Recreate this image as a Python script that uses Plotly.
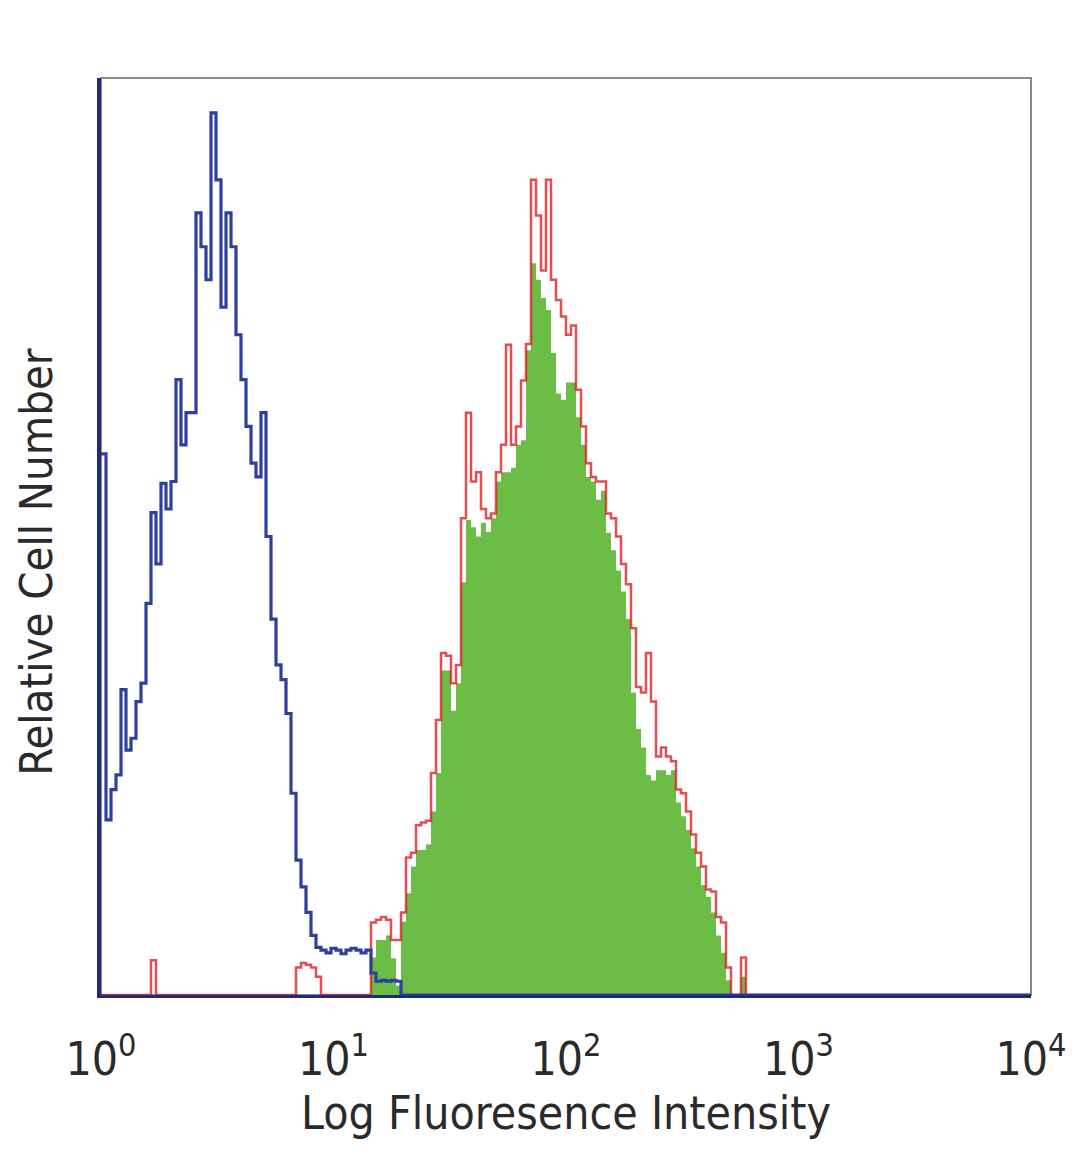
import numpy as np
import plotly.graph_objects as go

# Histogram channels: 186 channels spanning 4 decades (10^0 .. 10^4)
N_CHANNELS = 186
DECADES = 4.0

# Isotype control (blue outline), starting at channel 0
blue_start = 0
blue_counts = [59.0, 19.1, 22.4, 24.0, 33.3, 26.7, 28.0, 32.0, 34.0, 42.7,
               52.6, 47.0, 55.8, 53.0, 56.0, 67.1, 60.0, 63.5, 63.5, 85.3,
               81.6, 78.0, 96.2, 88.9, 75.0, 85.3, 81.6, 72.0, 67.1, 62.0,
               58.0, 56.5, 63.5, 50.0, 41.0, 36.0, 34.4, 30.7, 22.0, 14.7,
               11.8, 9.0, 6.5, 5.2, 4.9, 4.6, 5.1, 4.9, 4.5, 4.9,
               5.1, 4.9, 4.6, 4.9, 2.4, 1.5, 1.6, 1.5, 1.6, 1.5]

# Stained sample (green fill), starting at channel 54
green_start = 54
green_counts = [4.1, 6.0, 6.0, 6.5, 4.0, 1.0, 8.0, 11.1, 14.0, 15.8,
                15.8, 16.4, 20.0, 24.2, 35.4, 35.4, 31.0, 34.0, 45.0, 51.8,
                51.0, 50.0, 51.5, 50.5, 52.0, 56.0, 57.0, 57.0, 57.5, 60.0,
                60.5, 70.3, 79.8, 78.0, 76.0, 74.7, 70.0, 65.6, 64.9, 66.8,
                66.8, 63.0, 60.0, 56.5, 56.0, 54.0, 55.0, 50.4, 48.5, 46.3,
                44.0, 41.0, 33.0, 29.0, 27.0, 24.0, 23.4, 24.5, 24.5, 24.0,
                24.5, 21.0, 19.5, 18.0, 16.0, 14.0, 12.0, 10.7, 9.0, 6.5,
                4.6, 1.6, 0.0, 0.0, 2.0, 0.0]

# Second stained sample (red outline), starting at channel 0
red_start = 0
red_counts = [0.0] * 10 + [3.8] + [0.0] * 28 + [3.0, 3.5, 3.3, 3.0, 2.0] + [0.0] * 10 + \
             [7.9, 8.2, 8.5, 8.2, 6.0, 6.0, 9.0, 15.0, 15.5, 18.5,
              18.8, 19.0, 24.2, 30.0, 37.3, 37.0, 34.0, 36.0, 52.0, 63.5,
              56.0, 57.0, 53.0, 52.0, 52.5, 57.0, 60.0, 70.9, 60.0, 62.0,
              67.0, 71.0, 88.9, 85.0, 79.0, 88.9, 78.0, 75.8, 74.0, 72.0,
              73.0, 66.0, 62.0, 58.0, 56.5, 56.0, 56.0, 52.5, 52.0, 50.0,
              47.0, 44.8, 40.0, 33.6, 33.0, 37.3, 32.0, 26.0, 27.0, 26.0,
              25.5, 22.4, 22.0, 20.0, 17.5, 15.5, 14.0, 11.5, 11.3, 8.5,
              7.9, 3.0, 0.0, 0.0, 4.1, 0.0]

x_tick_vals = [1, 10, 100, 1000, 10000]
x_tick_text = ["10<sup>0</sup>", "10<sup>1</sup>", "10<sup>2</sup>", "10<sup>3</sup>", "10<sup>4</sup>"]
x_title = "Log Fluoresence Intensity"
y_title = "Relative Cell Number"


def step_xy(start, counts):
    full = np.zeros(N_CHANNELS)
    full[start:start + len(counts)] = counts
    edges = 10 ** (np.arange(N_CHANNELS + 1) * DECADES / N_CHANNELS)
    ys = np.append(full, full[-1])
    return edges, ys


fig = go.Figure()

gx, gy = step_xy(green_start, green_counts)
fig.add_trace(go.Scatter(x=gx, y=gy, mode="lines", line=dict(shape="hv", width=0, color="#6cbd45"),
                         fill="tozeroy", fillcolor="#6cbd45", hoverinfo="skip"))

rx, ry = step_xy(red_start, red_counts)
fig.add_trace(go.Scatter(x=rx, y=ry, mode="lines", line=dict(shape="hv", width=2.5, color="rgba(220,34,38,0.8)"),
                         hoverinfo="skip"))

bx, by = step_xy(blue_start, blue_counts)
fig.add_trace(go.Scatter(x=bx, y=by, mode="lines", line=dict(shape="hv", width=3.2, color="#2e3f9e"),
                         hoverinfo="skip"))

font_family = "Liberation Sans Narrow, DejaVu Sans Condensed, Liberation Sans, sans-serif"
text_color = "#2a2a2a"

fig.update_layout(
    width=1080, height=1169,
    margin=dict(l=93, r=57, t=70, b=182),
    paper_bgcolor="white", plot_bgcolor="white",
    showlegend=False,
    xaxis=dict(type="log", range=[0, 4], tickvals=x_tick_vals, ticktext=x_tick_text,
               showgrid=False, zeroline=False, showline=True, linecolor="#1f2a7a", linewidth=3,
               ticks="", ticklabelstandoff=22, layer="below traces",
               tickfont=dict(family=font_family, size=46, color=text_color),
               title=dict(text=x_title, font=dict(family=font_family, size=46, color=text_color), standoff=12)),
    yaxis=dict(range=[0, 100], showgrid=False, zeroline=False, showline=True, linecolor="#1f2a7a",
               linewidth=4, showticklabels=False, ticks=""),
    shapes=[dict(type="rect", xref="paper", yref="paper", x0=0, y0=0, x1=1, y1=1,
                 line=dict(color="#8a8a8a", width=2), layer="below")],
    annotations=[dict(text=y_title, textangle=-90, xref="paper", yref="paper",
                      x=0, y=0.472, xanchor="right", yanchor="middle", xshift=-36,
                      showarrow=False, font=dict(family=font_family, size=45, color=text_color))],
)

fig.write_html("out.html")
